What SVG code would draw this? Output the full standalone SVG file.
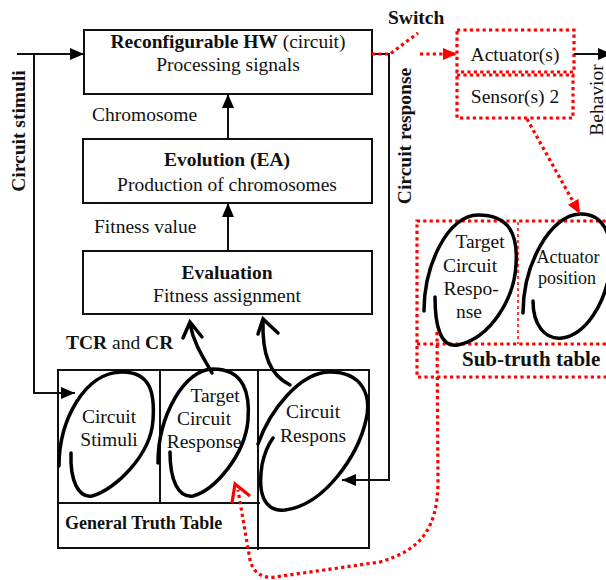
<svg xmlns="http://www.w3.org/2000/svg" width="606" height="580" viewBox="0 0 606 580">
<defs>
<style>
text{font-family:"Liberation Serif","Times New Roman",serif;font-size:19.5px;fill:#111}
.b{font-weight:bold}
.box{fill:#fff;stroke:#111;stroke-width:2}
.ln{fill:none;stroke:#111;stroke-width:2}
.loop{fill:none;stroke:#000;stroke-width:3.5;stroke-linecap:round}
.red{fill:none;stroke:#f00;stroke-width:3.2;stroke-dasharray:3.2 3.2}
.c{text-anchor:middle}
</style>
<marker id="ah" viewBox="0 0 14 12" refX="14" refY="6" markerWidth="14" markerHeight="12" markerUnits="userSpaceOnUse" orient="auto"><path d="M0,0 L14,6 L0,12 Z" fill="#000"/></marker>
<marker id="ahr" viewBox="0 0 14 12" refX="14" refY="6" markerWidth="14" markerHeight="12" markerUnits="userSpaceOnUse" orient="auto"><path d="M0,0 L14,6 L0,12 Z" fill="#f00"/></marker>
</defs>
<rect width="606" height="580" fill="#fff"/>

<g id="hw">
<rect class="box" x="84" y="30" width="288" height="64"/>
<text class="c" x="228" y="48"><tspan class="b">Reconfigurable HW</tspan> (circuit)</text>
<text class="c" x="228" y="71">Processing signals</text>
</g>
<g id="evolution">
<rect class="box" x="83" y="139" width="289" height="64"/>
<text class="c b" x="227" y="166">Evolution (EA)</text>
<text class="c" x="227" y="191">Production of chromosomes</text>
</g>
<g id="evaluation">
<rect class="box" x="83" y="251" width="289" height="63"/>
<text class="c b" x="227" y="279">Evaluation</text>
<text class="c" x="227" y="302">Fitness assignment</text>
</g>

<g id="general-table">
<rect x="58" y="370" width="311" height="178" fill="none" stroke="#111" stroke-width="2"/>
<line class="ln" x1="160" y1="370" x2="160" y2="504"/>
<line class="ln" x1="258" y1="370" x2="258" y2="550"/>
<line class="ln" x1="58" y1="503" x2="260" y2="503"/>
<text class="b" x="65" y="529" style="font-size:18px">General Truth Table</text>
</g>
<g id="circuit-stimuli">
<path class="loop" d="M59,466 C59,420 85,372 122,372 C150,372 155,392 153,420 C151,455 115,490 92,496 C78,498 70,480 71,453"/>
<text class="c" x="109" y="423">Circuit</text>
<text class="c" x="109" y="446">Stimuli</text>
</g>
<g id="target-circuit-response">
<path class="loop" d="M158,463 C158,415 185,369 213,369 C245,369 250,395 248,420 C245,455 215,490 193,496 C178,498 170,480 170,452"/>
<text class="c" x="215" y="402">Target</text>
<text class="c" x="204" y="425">Circuit</text>
<text class="c" x="204" y="448">Response</text>
</g>
<g id="circuit-respons">
<path class="loop" d="M258,444 C270,410 300,372 330,372 C362,372 372,395 366,420 C358,455 325,505 285,510 C262,512 258,490 262,465 C264,455 268,445 273,438"/>
<text class="c" x="313" y="418">Circuit</text>
<text class="c" x="313" y="442">Respons</text>
</g>

<g id="actuators">
<rect class="red" x="457" y="30" width="117" height="42"/>
<text class="c" x="515" y="61">Actuator(s)</text>
</g>
<g id="sensors">
<rect class="red" x="457" y="75" width="116" height="43"/>
<text class="c" x="515" y="103">Sensor(s) 2</text>
</g>

<g id="sub-truth-table">
<path class="red" d="M612,221 L417,221 L417,377 L612,377"/>
<line class="red" x1="417" y1="344" x2="612" y2="344"/>
<line x1="518" y1="222" x2="518" y2="344" stroke="#f00" stroke-width="1.5" stroke-dasharray="3 3"/>
<text class="b" x="462" y="366" style="font-size:21px">Sub-truth table</text>
</g>
<g id="sub-target">
<path class="loop" d="M424,311 C424,265 448,215 478,215 C510,215 518,235 516,265 C514,300 490,338 458,345 C440,348 435,325 435,297"/>
<text class="c" x="480" y="248">Target</text>
<text class="c" x="470" y="272">Circuit</text>
<text class="c" x="471" y="295">Respo-</text>
<text class="c" x="469" y="318">nse</text>
</g>
<g id="sub-actuator">
<path class="loop" d="M523,313 C523,265 550,215 580,214 C605,213 615,240 610,270 C605,305 585,335 562,338 C545,340 533,325 533,301"/>
<text class="c" x="568" y="263" style="font-size:18px">Actuator</text>
<text class="c" x="567" y="284" style="font-size:18px">position</text>
</g>

<g id="labels">
<text x="92" y="121">Chromosome</text>
<text x="94" y="233">Fitness value</text>
<text x="66" y="349"><tspan class="b">TCR</tspan> and <tspan class="b">CR</tspan></text>
<text class="b c" transform="translate(25,131) rotate(-90)">Circuit stimuli</text>
<text class="b c" transform="translate(411,136) rotate(-90)">Circuit response</text>
<text class="c" transform="translate(603,100) rotate(-90)">Behavior</text>
<text class="b" x="388" y="24">Switch</text>
</g>

<g id="connectors">
<line class="ln" x1="17" y1="54" x2="84" y2="54" marker-end="url(#ah)"/>
<polyline class="ln" points="34,54 34,393 75,393" marker-end="url(#ah)"/>
<line class="ln" x1="228" y1="139" x2="228" y2="94" marker-end="url(#ah)"/>
<line class="ln" x1="228" y1="251" x2="228" y2="203" marker-end="url(#ah)"/>
<polyline class="ln" points="372,54 389,54 389,480 342,480" marker-end="url(#ah)"/>
<line class="ln" x1="574" y1="54" x2="612" y2="54" marker-end="url(#ah)"/>
<path class="loop" d="M212,373 C205,360 194,345 190,324"/>
<path class="loop" d="M183,338 L190,322 L202,337"/>
<path class="loop" d="M290,385 C270,375 262,355 263,321"/>
<path class="loop" d="M258,334 L263,319 L278,333"/>
<path class="red" d="M372,54 L390,54 L418,33"/>
<line class="red" x1="420" y1="54" x2="457" y2="54" marker-end="url(#ahr)"/>
<line class="red" x1="527" y1="119" x2="580" y2="214" marker-end="url(#ahr)"/>
<path class="red" d="M437,332 L438,480 C438,530 420,550 380,562 L275,577 C262,579 253,572 250,560 L238,490"/>
<path d="M232,503 L235,484 L250,496" fill="none" stroke="#f00" stroke-width="3.2"/>
</g>
</svg>
